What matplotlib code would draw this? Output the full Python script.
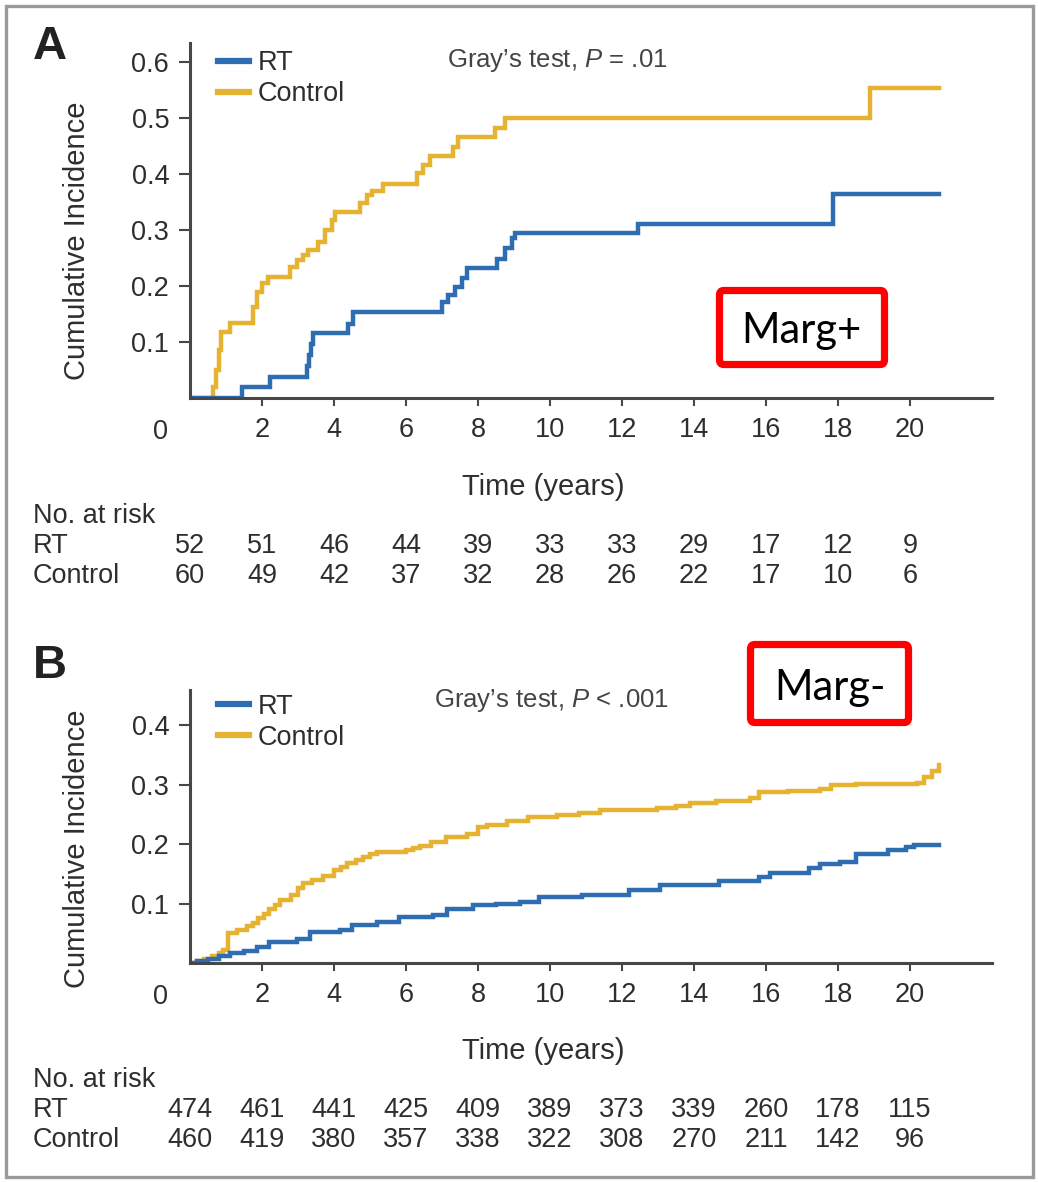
import matplotlib
matplotlib.use("Agg")
import matplotlib.pyplot as plt
from matplotlib.patches import FancyBboxPatch, Rectangle
from matplotlib.lines import Line2D
from matplotlib.transforms import blended_transform_factory

# ---------------- data ----------------
risk_times = [0, 2, 4, 6, 8, 10, 12, 14, 16, 18, 20]
xtick_vals = [2, 4, 6, 8, 10, 12, 14, 16, 18, 20]

# Panel A (Marg+)
a_rt_t = [0, 1.44, 2.22, 3.24, 3.30, 3.36, 3.42, 4.40, 4.54, 6.99, 7.18, 7.36, 7.55, 7.69,
          8.52, 8.75, 8.94, 9.03, 12.45, 17.87, 20.81]
a_rt_y = [0, 0.020, 0.038, 0.057, 0.077, 0.097, 0.116, 0.133, 0.154, 0.172, 0.184, 0.199, 0.214, 0.232,
          0.249, 0.267, 0.285, 0.294, 0.310, 0.364, 0.364]
a_ctrl_t = [0, 0.65, 0.72, 0.80, 0.87, 1.11, 1.76, 1.85, 1.99, 2.18, 2.78, 2.96, 3.15, 3.29,
            3.56, 3.75, 3.94, 4.03, 4.72, 4.91, 5.05, 5.37, 6.30, 6.48, 6.67, 7.31, 7.45,
            8.47, 8.75, 18.89, 20.81]
a_ctrl_y = [0, 0.020, 0.050, 0.085, 0.118, 0.134, 0.163, 0.190, 0.205, 0.216, 0.234, 0.246, 0.255, 0.264,
            0.279, 0.300, 0.318, 0.333, 0.348, 0.362, 0.370, 0.383, 0.401, 0.416, 0.432, 0.449, 0.467,
            0.482, 0.500, 0.553, 0.553]
a_risk_rt = [52, 51, 46, 44, 39, 33, 33, 29, 17, 12, 9]
a_risk_ctrl = [60, 49, 42, 37, 32, 28, 26, 22, 17, 10, 6]

# Panel B (Marg-)
b_ctrl_t = [0, 0.2, 0.4, 0.6, 0.8, 0.92, 1.06, 1.3, 1.58, 1.75, 1.9, 2.05, 2.2, 2.35, 2.5, 2.8,
            3.0, 3.14, 3.4, 3.7, 4.0, 4.2, 4.35, 4.6, 4.8, 5.0, 5.2, 6.0, 6.2, 6.4, 6.7, 7.1,
            7.7, 8.0, 8.25, 8.8, 9.4, 10.2, 10.8, 11.4, 12.97, 13.5, 13.9, 14.6, 15.55, 15.8,
            16.6, 17.5, 17.8, 18.5, 20.2, 20.4, 20.6, 20.8]
b_ctrl_y = [0, 0.003, 0.007, 0.012, 0.017, 0.022, 0.050, 0.055, 0.062, 0.068, 0.075, 0.082,
            0.090, 0.098, 0.106, 0.115, 0.126, 0.134, 0.140, 0.147, 0.157, 0.162, 0.168, 0.173,
            0.178, 0.183, 0.187, 0.190, 0.193, 0.197, 0.204, 0.212, 0.217, 0.228, 0.232, 0.238,
            0.245, 0.248, 0.252, 0.257, 0.260, 0.264, 0.269, 0.272, 0.277, 0.287, 0.289, 0.292,
            0.299, 0.301, 0.303, 0.313, 0.323, 0.333]
b_rt_t = [0, 0.2, 0.5, 0.8, 1.1, 1.5, 1.85, 2.2, 2.97, 3.33, 4.17, 4.5, 5.2, 5.8, 6.75, 7.14,
          7.86, 8.5, 9.17, 9.7, 10.9, 12.2, 13.05, 14.7, 15.8, 16.1, 17.2, 17.5, 18.05, 18.5,
          19.4, 19.9, 20.1, 20.8]
b_rt_y = [0, 0.003, 0.007, 0.012, 0.017, 0.020, 0.027, 0.035, 0.041, 0.052, 0.055, 0.064,
          0.069, 0.077, 0.080, 0.090, 0.097, 0.100, 0.103, 0.111, 0.115, 0.122, 0.131, 0.138,
          0.145, 0.151, 0.159, 0.166, 0.170, 0.183, 0.190, 0.195, 0.198, 0.198]
b_risk_rt = [474, 461, 441, 425, 409, 389, 373, 339, 260, 178, 115]
b_risk_ctrl = [460, 419, 380, 357, 338, 322, 308, 270, 211, 142, 96]

# ---------------- style ----------------
plt.rcParams['font.family'] = ['Liberation Sans', 'DejaVu Sans']
plt.rcParams['mathtext.fontset'] = 'custom'
plt.rcParams['mathtext.rm'] = 'Liberation Sans'
plt.rcParams['mathtext.it'] = 'Liberation Sans:italic'

BLUE = '#2f6db3'
GOLD = '#e6b232'
TXT = '#2e2e2e'
SPINE = '#474747'

W, H = 1038, 1182
fig = plt.figure(figsize=(W / 100, H / 100), dpi=100)
fig.patch.set_facecolor('white')


def px_axes(x0, y0, x1, y1):
    return fig.add_axes([x0 / W, 1 - y1 / H, (x1 - x0) / W, (y1 - y0) / H])


def panel(ax, rt_t, rt_y, c_t, c_y, ymax, yticks, ptext, risk_rt, risk_c,
          rows_y, xlabel_y, ylabel_y, leg_y):
    ax.step(c_t, c_y, where='post', color=GOLD, lw=3.2, solid_joinstyle='miter')
    ax.step(rt_t, rt_y, where='post', color=BLUE, lw=3.2, solid_joinstyle='miter')
    ax.set_xlim(0, 22.28)
    ax.set_ylim(0, ymax)
    for s in ['top', 'right']:
        ax.spines[s].set_visible(False)
    for s in ['left', 'bottom']:
        ax.spines[s].set_color(SPINE)
        ax.spines[s].set_linewidth(2.2)
    ax.set_xticks(xtick_vals)
    ax.set_xticklabels([str(v) for v in xtick_vals])
    ax.set_yticks(yticks)
    ax.set_yticklabels([f"{v:.1f}" for v in yticks])
    ax.tick_params(axis='x', length=6, width=1.5, color=SPINE, pad=8,
                   labelsize=19.5, labelcolor=TXT)
    ax.tick_params(axis='y', length=8, width=1.5, color=SPINE, pad=7,
                   labelsize=19.5, labelcolor=TXT)
    ax.annotate('0', xy=(0, 0), xycoords='data', xytext=(-30, -34),
                textcoords='offset pixels', ha='center', va='center',
                fontsize=19.5, color=TXT, annotation_clip=False)
    ax.set_xlabel('Time (years)', fontsize=21, color=TXT)
    ax.xaxis.label.set_va('center')
    ax.xaxis.set_label_coords(0.44, xlabel_y)
    ax.set_ylabel('Cumulative Incidence', fontsize=21, color=TXT)
    ax.yaxis.label.set_va('center')
    ax.yaxis.set_label_coords(-0.141, ylabel_y)

    handles = [Line2D([], [], color=BLUE, lw=4.5), Line2D([], [], color=GOLD, lw=4.5)]
    leg = ax.legend(handles, ['RT', 'Control'], loc='upper left',
                    bbox_to_anchor=(0.035, leg_y), frameon=False, fontsize=19.5,
                    handlelength=1.15, handletextpad=0.3, labelspacing=0.18,
                    borderpad=0, borderaxespad=0)
    for t in leg.get_texts():
        t.set_color(TXT)
    ax.text(ptext[0], ptext[1], ptext[2], transform=ax.transAxes, fontsize=18.5,
            color='#444444', ha='left', va='center')

    tr = blended_transform_factory(ax.transData, ax.transAxes)
    ax.text(-0.196, rows_y[0], 'No. at risk', transform=ax.transAxes, ha='left',
            va='center', fontsize=19.5, color=TXT)
    ax.text(-0.196, rows_y[1], 'RT', transform=ax.transAxes, ha='left',
            va='center', fontsize=19.5, color=TXT)
    ax.text(-0.196, rows_y[2], 'Control', transform=ax.transAxes, ha='left',
            va='center', fontsize=19.5, color=TXT)
    for tt, r1, r2 in zip(risk_times, risk_rt, risk_c):
        ax.text(tt, rows_y[1], str(r1), transform=tr, ha='center', va='center',
                fontsize=19.5, color=TXT, clip_on=False)
        ax.text(tt, rows_y[2], str(r2), transform=tr, ha='center', va='center',
                fontsize=19.5, color=TXT, clip_on=False)


axA = px_axes(190, 43, 992, 398)
panel(axA, a_rt_t, a_rt_y, a_ctrl_t, a_ctrl_y, 0.634, [0.1, 0.2, 0.3, 0.4, 0.5, 0.6],
      (0.32, 0.952, r"Gray’s test, $\mathit{P}$ = .01"), a_risk_rt, a_risk_ctrl,
      [-0.332, -0.417, -0.501], -0.25, 0.442, 0.979)

axB = px_axes(190, 690, 992, 963)
panel(axB, b_rt_t, b_rt_y, b_ctrl_t, b_ctrl_y, 0.459, [0.1, 0.2, 0.3, 0.4],
      (0.304, 0.963, r"Gray’s test, $\mathit{P}$ < .001"), b_risk_rt, b_risk_ctrl,
      [-0.429, -0.538, -0.648], -0.322, 0.42, 0.986)

# panel letters
fig.text(50 / W, 1 - 47 / H, 'A', fontsize=34, fontweight='bold', color='#222222',
         ha='center', va='center')
fig.text(50 / W, 1 - 666 / H, 'B', fontsize=34, fontweight='bold', color='#222222',
         ha='center', va='center')


# red annotation boxes
def red_box(x0, y0, x1, y1, label, tx, tbase):
    p = FancyBboxPatch((x0 / W, 1 - y1 / H), (x1 - x0) / W, (y1 - y0) / H,
                       boxstyle='round,pad=0,rounding_size=0.004',
                       transform=fig.transFigure, fc='white', ec='#ff0000', lw=5.2)
    fig.patches.append(p)
    fig.text(tx / W, 1 - tbase / H, label, fontsize=30, family=['Lato', 'DejaVu Sans'],
             color='black', ha='center', va='baseline')


red_box(719.5, 290.5, 884.5, 364.5, 'Marg+', 801.5, 343)
red_box(750.5, 644.5, 908.5, 722.5, 'Marg-', 829.5, 700)

# outer frame
fig.patches.append(Rectangle((5.5 / W, 5.5 / H), (W - 11) / W, (H - 11) / H,
                             transform=fig.transFigure, fill=False, ec='#9a9a9a', lw=2.4))

fig.savefig('out.png', dpi=100)
